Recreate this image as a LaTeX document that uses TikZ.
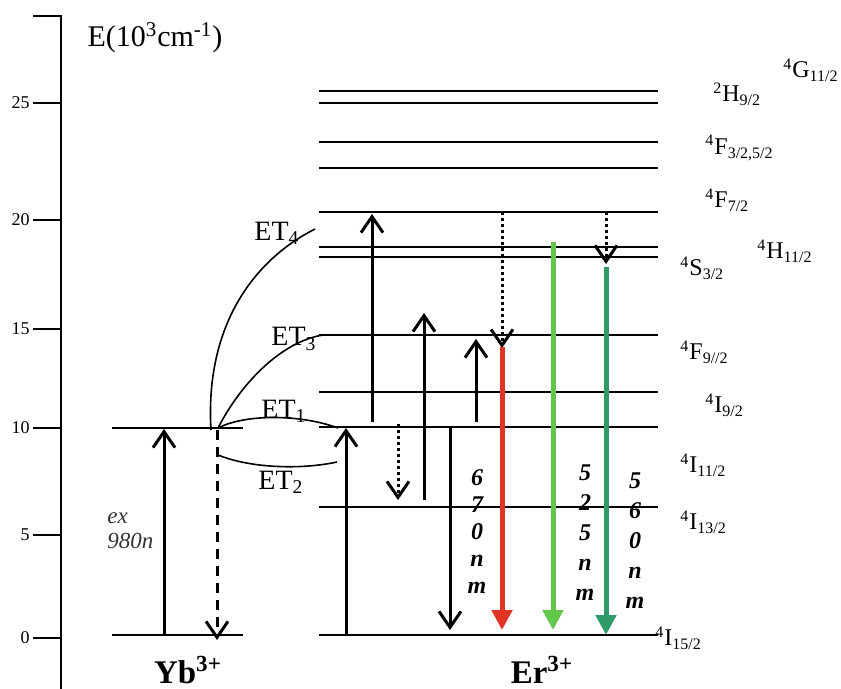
\documentclass[tikz,border=0pt]{standalone}
\usepackage{fontspec}
\setmainfont{Liberation Serif}
\usetikzlibrary{arrows.meta}
\definecolor{redline}{RGB}{224,52,36}
\definecolor{lightgreen}{RGB}{98,200,75}
\definecolor{darkgreen}{RGB}{46,155,104}

\begin{document}
\begin{tikzpicture}[x=0.5pt, y=-0.5pt,
  level/.style={line width=1pt},
  trans/.style={line width=1.5pt, -{Straight Barb[length=8pt,width=11pt]}},
  relax/.style={trans, dash pattern=on 1.5pt off 1.5pt},
  decay/.style={trans, dash pattern=on 5pt off 3.5pt},
  emit/.style={line width=2.5pt, -{Triangle[length=10pt,width=10pt]}},
  et/.style={line width=0.8pt},
  term/.style={anchor=west, inner sep=0pt, font=\fontsize{12}{14}\selectfont},
  etlbl/.style={inner sep=0pt, font=\fontsize{14}{16}\selectfont},
  wave/.style={align=center, inner sep=0pt, font=\fontsize{12}{#1}\selectfont\bfseries\itshape}]
  \useasboundingbox (0,0) rectangle (841,689);

  % energy axis
  \draw[line width=1pt] (33,16) -- (61,16) -- (61,689);
  \foreach \v/\y in {25/103,20/220,15/329,10/428,5/535,0/638} {
    \draw[line width=1pt] (33,\y) -- (61,\y);
    \node[anchor=east, inner sep=0pt, font=\fontsize{9}{10}\selectfont] (tick\v) at (30,\y) {\v};
  }
  \node[font=\fontsize{15}{18}\selectfont] (axtitle) at (155,38) {E(10\textsuperscript{3}cm\textsuperscript{-1})};

  % Yb3+ levels
  \draw[level] (112,428) -- (243,428);
  \draw[level] (112,635) -- (243,635);
  % Er3+ levels
  \foreach \y in {90.7,102.7,142.3,168.3,212,246.7,257.3,335,392.3,427.5,506.7,635}
    \draw[level] (319,\y) -- (658,\y);

  % term labels
  \node[term] (G112) at (783,70) {\textsuperscript{4}G\textsubscript{11/2}};
  \node[term] (H92) at (713,94) {\textsuperscript{2}H\textsubscript{9/2}};
  \node[term] (F32) at (705,148) {\textsuperscript{4}F\textsubscript{3/2,5/2}};
  \node[term] (F72) at (705,200) {\textsuperscript{4}F\textsubscript{7/2}};
  \node[term] (H112) at (757,251) {\textsuperscript{4}H\textsubscript{11/2}};
  \node[term] (S32) at (680,268) {\textsuperscript{4}S\textsubscript{3/2}};
  \node[term] (F92) at (680,352) {\textsuperscript{4}F\textsubscript{9//2}};
  \node[term] (I92) at (705,405) {\textsuperscript{4}I\textsubscript{9/2}};
  \node[term] (I112) at (680,465) {\textsuperscript{4}I\textsubscript{11/2}};
  \node[term] (I132) at (680,522) {\textsuperscript{4}I\textsubscript{13/2}};
  \node[term] (I152) at (655,638) {\textsuperscript{4}I\textsubscript{15/2}};

  % ions
  \node[font=\fontsize{16.5}{20}\selectfont\bfseries] (yb) at (188,670) {Yb\textsuperscript{3+}};
  \node[font=\fontsize{16.5}{20}\selectfont\bfseries] (er) at (542,670) {Er\textsuperscript{3+}};

  % arrow end points
  \foreach \n/\p in {ybUpA/{164,634}, ybUpB/{164,429}, ybDnA/{217,430}, ybDnB/{217,640},
      erUpA/{346,635}, erUpB/{346,428}, upFourA/{372,422}, upFourB/{372,214},
      nrA/{398,424}, nrB/{398,500}, upThreeA/{424,500}, upThreeB/{424,313},
      dnA/{450,426}, dnB/{450,630}, upTwoA/{476,422}, upTwoB/{476,339},
      nrRedA/{502,212}, nrRedB/{502,348}, redA/{502,347}, redB/{502,630},
      grA/{553,242}, grB/{553,630},
      nrGrA/{606,212}, nrGrB/{606,264}, dgA/{606,267}, dgB/{606,635}}
    \coordinate (\n) at (\p);

  % Yb3+ pump and back transfer
  \draw[trans] (ybUpA) -- (ybUpB);
  \draw[decay] (ybDnA) -- (ybDnB);
  \node[anchor=west, align=left, inner sep=0pt, text=black!80,
    font=\fontsize{11.5}{12.5}\selectfont\itshape] (ex) at (107,531) {ex\\980n};

  % energy transfer curves
  \coordinate (etYb) at (218,428);
  \coordinate (etYbL) at (211,430);
  \coordinate (etYbD) at (218,455);
  \draw[et] (etYb) .. controls (245,414) and (300,414) .. (338,428) coordinate (etOne);
  \draw[et] (etYbD) .. controls (250,468) and (300,470) .. (337,462) coordinate (etTwo);
  \draw[et] (etYb) .. controls (240,385) and (280,342) .. (323,335) coordinate (etThree);
  \draw[et] (etYbL) .. controls (205,330) and (250,262) .. (315,229) coordinate (etFour);
  \node[etlbl] (lblFour) at (277,233) {ET\textsubscript{4}};
  \node[etlbl] (lblThree) at (294,339) {ET\textsubscript{3}};
  \node[etlbl] (lblOne) at (284,411) {ET\textsubscript{1}};
  \node[etlbl] (lblTwo) at (281,482) {ET\textsubscript{2}};

  % Er3+ transitions
  \draw[trans] (erUpA) -- (erUpB);
  \draw[trans] (upFourA) -- (upFourB);
  \draw[relax] (nrA) -- (nrB);
  \draw[trans] (upThreeA) -- (upThreeB);
  \draw[trans] (dnA) -- (dnB);
  \draw[trans] (upTwoA) -- (upTwoB);
  \draw[relax] (nrRedA) -- (nrRedB);
  \draw[relax] (nrGrA) -- (nrGrB);
  \draw[emit, redline] (redA) -- (redB);
  \draw[emit, lightgreen] (grA) -- (grB);
  \draw[emit, darkgreen] (dgA) -- (dgB);

  % emission wavelengths
  \node[wave=13.5pt] (nmRed) at (477,532) {6\\7\\0\\n\\m};
  \node[wave=15pt] (nmGreen) at (585,533) {5\\2\\5\\n\\m};
  \node[wave=15pt] (nmDark) at (635,541) {5\\6\\0\\n\\m};
\end{tikzpicture}
\end{document}
